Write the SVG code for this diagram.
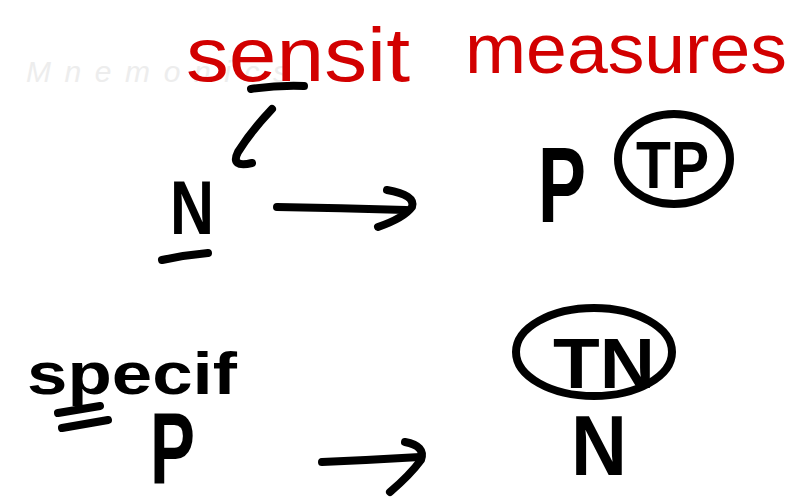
<svg xmlns="http://www.w3.org/2000/svg" width="809" height="500" viewBox="0 0 809 500">
<style>
.ink{fill:none;stroke:#000;stroke-width:8;stroke-linecap:round;stroke-linejoin:round}
.t{font-family:"Liberation Sans",Arial,sans-serif;fill:#000;font-weight:bold}
.red{fill:#d20000;font-weight:normal}
.wm{font-family:"Liberation Sans",Arial,sans-serif;font-style:italic;fill:#ededed;font-size:30px}
</style>
<rect width="809" height="500" fill="#fff"/>
<text class="wm" x="26" y="82" textLength="262" lengthAdjust="spacing">Mnemonics</text>

<g id="title-sensit">
<text class="t red" x="186" y="81" font-size="76" textLength="224" lengthAdjust="spacingAndGlyphs">sensit</text>
</g>
<g id="title-measures">
<text class="t red" x="465" y="73" font-size="70" textLength="322" lengthAdjust="spacingAndGlyphs">measures</text>
</g>
<g id="node-N-top">
<text class="t" x="170" y="234" font-size="76" textLength="44" lengthAdjust="spacingAndGlyphs">N</text>
<path class="ink" d="M162,260 Q185,255 208,253"/>
</g>
<g id="node-P-top">
<text class="t" x="538" y="222" font-size="108" textLength="48" lengthAdjust="spacingAndGlyphs">P</text>
</g>
<g id="node-TP">
<ellipse class="ink" cx="674" cy="159" rx="56" ry="45"/>
<text class="t" x="636" y="188" font-size="66" textLength="73" lengthAdjust="spacingAndGlyphs">TP</text>
</g>
<g id="node-specif">
<text class="t" x="27" y="394" font-size="60" textLength="210" lengthAdjust="spacingAndGlyphs">specif</text>
<path class="ink" d="M58,413 L100,406"/>
<path class="ink" d="M62,428 L108,420"/>
</g>
<g id="node-P-bottom">
<text class="t" x="150" y="484" font-size="102" textLength="45" lengthAdjust="spacingAndGlyphs">P</text>
</g>
<g id="node-TN">
<ellipse class="ink" cx="594" cy="352" rx="78" ry="44"/>
<text class="t" x="553" y="388" font-size="70" textLength="102" lengthAdjust="spacingAndGlyphs">TN</text>
</g>
<g id="node-N-bottom">
<text class="t" x="571" y="475" font-size="86" textLength="56" lengthAdjust="spacingAndGlyphs">N</text>
</g>

<g id="connectors">
<path class="ink" d="M251,89 Q278,85 304,86"/>
<path class="ink" d="M272,109 Q252,130 238,152 Q230,168 252,163"/>
<path class="ink" d="M277,207 Q340,208 406,210"/>
<path class="ink" d="M387,190 Q416,195 412,207 Q404,218 378,227"/>
<path class="ink" d="M322,462 Q370,460 420,457"/>
<path class="ink" d="M405,442 Q426,446 421,460 Q410,475 390,492"/>
</g>
</svg>
